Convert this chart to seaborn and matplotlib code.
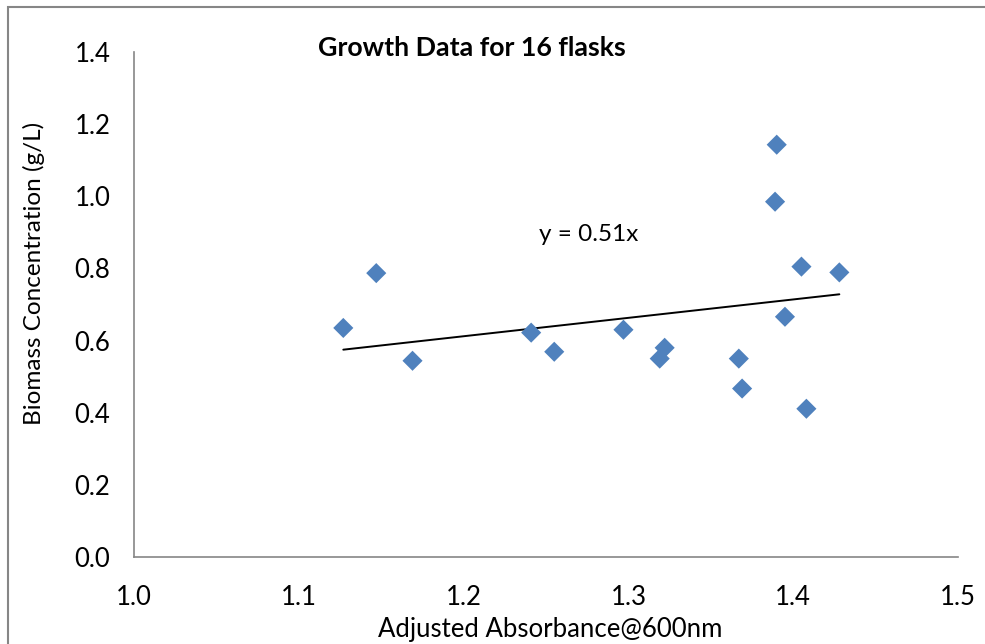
import matplotlib
matplotlib.use("Agg")
import matplotlib.pyplot as plt
import seaborn as sns
import numpy as np
import pandas as pd
from matplotlib.patches import Rectangle

absorbance = [1.127, 1.147, 1.169, 1.241, 1.255, 1.297, 1.322, 1.319,
              1.367, 1.369, 1.390, 1.389, 1.395, 1.405, 1.408, 1.428]
biomass = [0.635, 0.787, 0.544, 0.622, 0.569, 0.630, 0.580, 0.550,
           0.550, 0.467, 1.143, 0.985, 0.666, 0.805, 0.411, 0.789]
slope = 0.51
title = "Growth Data for 16 flasks"
xlabel = "Adjusted Absorbance@600nm"
ylabel = "Biomass Concentration (g/L)"
equation = "y = 0.51x"
xticks = [1.0, 1.1, 1.2, 1.3, 1.4, 1.5]
yticks = [0.0, 0.2, 0.4, 0.6, 0.8, 1.0, 1.2, 1.4]

sns.set_theme(style="white")
plt.rcParams['font.family'] = ['Lato', 'DejaVu Sans']

df = pd.DataFrame({"x": absorbance, "y": biomass})

fig = plt.figure(figsize=(9.85, 6.44), dpi=100)
ax = fig.add_axes([134/985, 1-557/644, (958-134)/985, (557-52)/644])

sns.scatterplot(data=df, x="x", y="y", marker="D", s=105, color="#4F81BD",
                edgecolor="none", ax=ax, zorder=3)

xs = np.array([min(absorbance), max(absorbance)])
ax.plot(xs, slope * xs, color="black", lw=1.4, zorder=2)

ax.set_xlim(1.0, 1.5)
ax.set_ylim(0.0, 1.4)
ax.set_xticks(xticks)
ax.set_yticks(yticks)
ax.set_xticklabels([f"{v:.1f}" for v in xticks])
ax.set_yticklabels([f"{v:.1f}" for v in yticks])
ax.tick_params(axis="both", which="both", direction="out", length=6, width=1,
               color="#868686", labelsize=18.5, labelcolor="black", pad=11)
ax.tick_params(axis="x", pad=14)
for s in ["top", "right"]:
    ax.spines[s].set_visible(False)
for s in ["left", "bottom"]:
    ax.spines[s].set_color("#868686")
    ax.spines[s].set_linewidth(1.2)

ax.set_xlabel(xlabel, fontsize=18.5, color="black")
ax.set_ylabel(ylabel, fontsize=17.5, color="black")
ax.xaxis.set_label_coords((550-134)/(958-134), -(617-557)/(557-52))
ax.yaxis.set_label_coords(-(134-45)/(958-134), (557-273)/(557-52))

fig.text(472/985, 1-48/644, title, ha="center", va="center",
         fontsize=19.3, fontweight="bold", color="black")
ax.text(1.246, 0.893, equation, ha="left", va="center", fontsize=17.5, color="black")

fig.add_artist(Rectangle((8/985, -0.1), 1.2, 1 - 7/644 + 0.1,
                         transform=fig.transFigure, fill=False,
                         edgecolor="#868686", lw=1.5, clip_on=False))

fig.savefig("out.png", dpi=100)
